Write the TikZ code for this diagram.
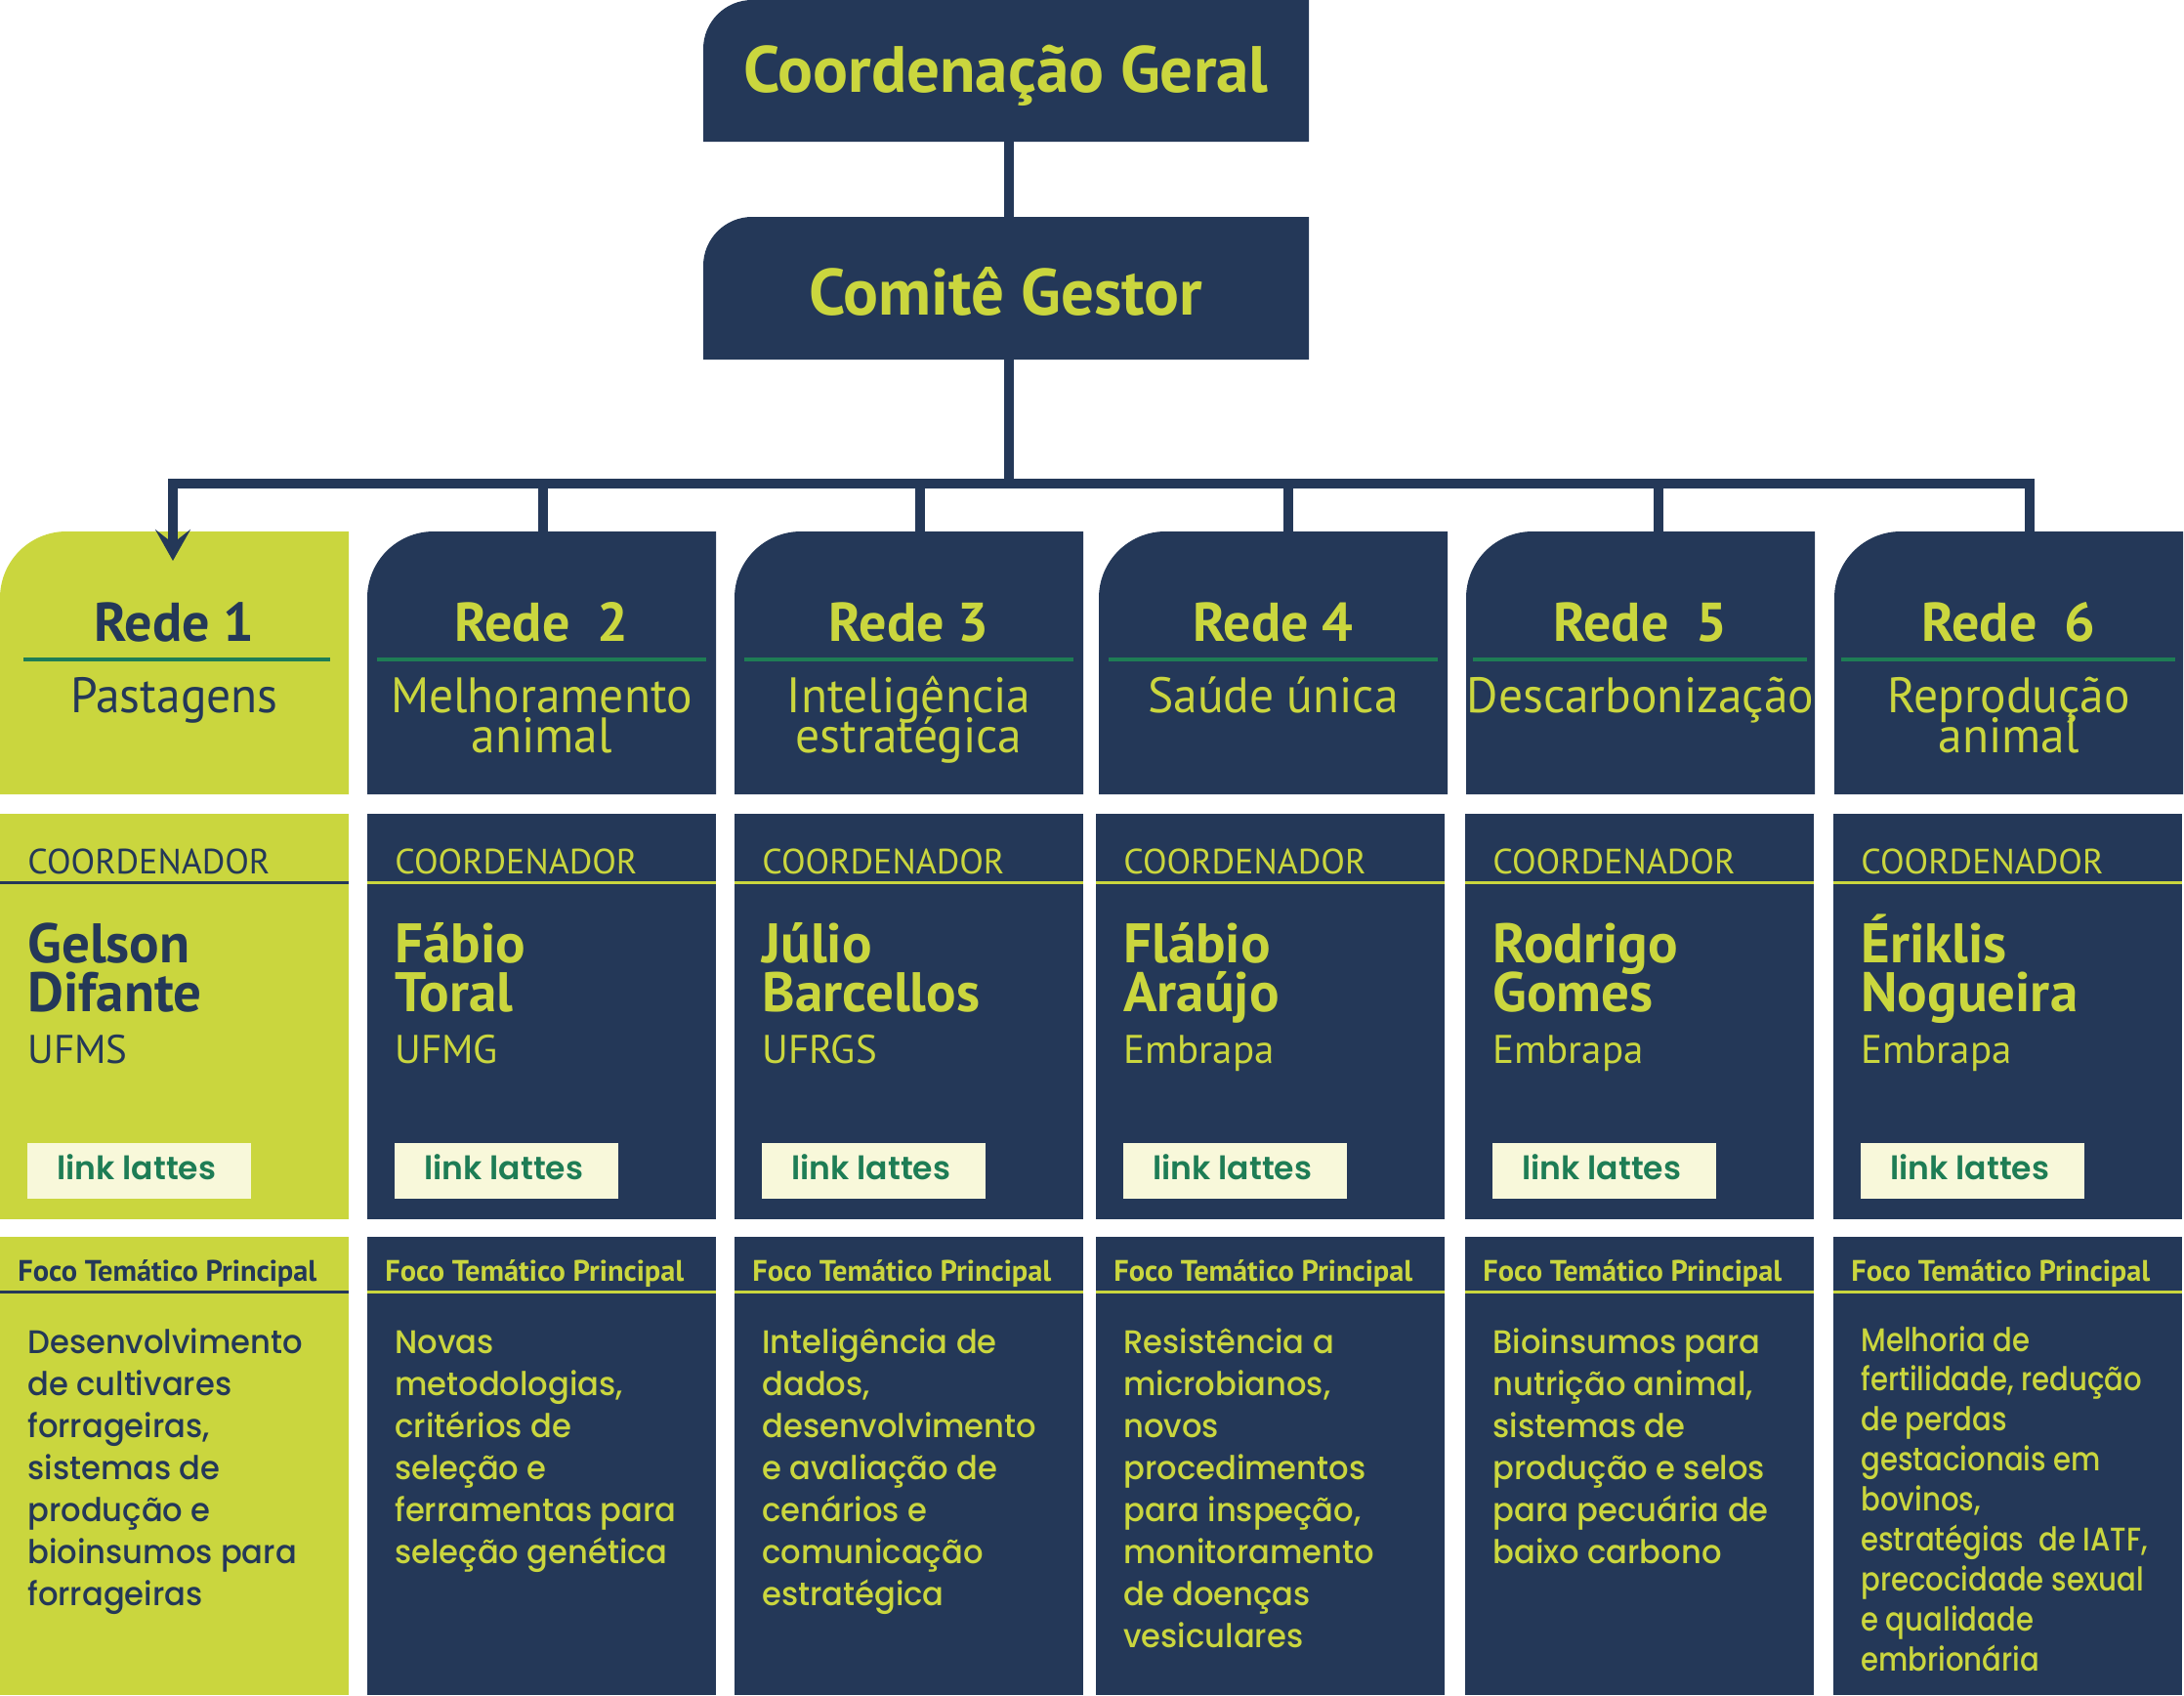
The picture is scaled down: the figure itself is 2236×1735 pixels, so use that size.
\documentclass[tikz,border=0pt]{standalone}
\usepackage{fontspec}
\usetikzlibrary{arrows.meta}
\newfontfamily\mys{PT Sans}
\newfontfamily\myss{PT Sans}[FakeStretch=0.97]
\newfontfamily\pop{Poppins}[UprightFont={* Medium}, BoldFont={* SemiBold}]
\newfontfamily\popb{Poppins}[UprightFont={* Medium}, FakeStretch=0.96]
\newfontfamily\popc{Poppins}[UprightFont={* Medium}, FakeStretch=0.87]
\definecolor{navy}{RGB}{36,56,88}
\definecolor{lime}{RGB}{202,214,62}
\definecolor{grn}{RGB}{30,125,85}
\definecolor{cream}{RGB}{248,248,218}
\tikzset{
  anch/.style={inner sep=0pt, outer sep=0pt, minimum width=178.5pt, anchor=north west},
  conn/.style={draw=navy, line width=4.75pt, line join=miter},
  ttl/.style={font=\mys\bfseries\fontsize{28pt}{30pt}\selectfont, anchor=base, inner sep=0pt},
  sub/.style={font=\myss\fontsize{25.5pt}{27pt}\selectfont, anchor=base, inner sep=0pt},
  lbl/.style={font=\mys\fontsize{18pt}{20pt}\selectfont, anchor=base west, inner sep=0pt},
  nm/.style={font=\mys\bfseries\fontsize{28.5pt}{30pt}\selectfont, anchor=base west, inner sep=0pt},
  inst/.style={font=\mys\fontsize{20.5pt}{22pt}\selectfont, anchor=base west, inner sep=0pt},
  foco/.style={font=\mys\bfseries\fontsize{15.2pt}{17pt}\selectfont, anchor=base west, inner sep=0pt},
  body/.style={font=\popb\fontsize{16.75pt}{20pt}\selectfont, anchor=base west, inner sep=0pt},
  bodyc/.style={font=\popc\fontsize{16.75pt}{20pt}\selectfont, anchor=base west, inner sep=0pt},
  lnk/.style={font=\pop\bfseries\fontsize{16.5pt}{18pt}\selectfont, text=grn, anchor=base west, inner sep=0pt},
}
\newcommand\tlbox[3]{\fill[#3] (#1.south west) -- ([yshift=-#2]#1.north west) arc[start angle=180, end angle=90, radius=#2] -- (#1.north east) -- (#1.south east) -- cycle;}
% header: id, L, fill, fg, title, subtitle lines, rule left inset, rule right end
\newcommand\colhead[8]{%
  \node[anch, minimum height=134.5pt] (r#1) at (#2,544) {};
  \tlbox{r#1}{34pt}{#3}
  \node[ttl, text=#4] (r#1t) at ({#2+178.5},656) {#5};
  \draw[grn, line width=2.25pt] ({#2+#7},675) -- ({#2+#8},675);
  \foreach \lin [count=\k] in {#6} \node[sub, text=#4] (r#1s\k) at ({#2+178.5},{729+41*(\k-1)}) {\lin};
}
% middle: id, L, fill, fg, name lines, institution
\newcommand\colmid[6]{%
  \node[anch, minimum height=207.5pt] (m#1) at (#2,833) {};
  \fill[#3] (m#1.north west) rectangle (m#1.south east);
  \node[lbl, text=#4] (m#1c) at ({#2+28},894) {COORDENADOR};
  \draw[#4, line width=1.5pt] ({#2},903) -- ({#2+357},903);
  \foreach \lin [count=\k] in {#5} \node[nm, text=#4] (m#1n\k) at ({#2+28},{985+50*(\k-1)}) {\lin};
  \node[inst, text=#4] (m#1i) at ({#2+28},1088) {#6};
  \node[anch, minimum width=114.5pt, minimum height=28.5pt, fill=cream] (m#1b) at ({#2+28},1170) {};
  \node[lnk] (m#1l) at ({#2+58},1207) {link lattes};
}
% bottom: id, L, fill, fg, body lines, style, first baseline, step
\newcommand\colbot[8]{%
  \node[anch, minimum height=234.5pt] (b#1) at (#2,1266) {};
  \fill[#3] (b#1.north west) rectangle (b#1.south east);
  \node[foco, text=#4] (b#1f) at ({#2+18},1311) {Foco Temático Principal};
  \draw[#4, line width=1.5pt] ({#2},1322) -- ({#2+357},1322);
  \foreach \lin [count=\k] in {#5} \node[#6, text=#4] (b#1x\k) at ({#2+28},{#7+#8*(\k-1)}) {\lin};
}
\begin{document}
\begin{tikzpicture}[x=0.5pt, y=-0.5pt]
\useasboundingbox (0,0) rectangle (2236,1735);
% top boxes
\node[anch, minimum width=310pt, minimum height=72.5pt] (cg) at (720,0) {};
\node[anch, minimum width=310pt, minimum height=73pt] (cgest) at (720,222) {};
\tlbox{cg}{25pt}{navy}
\tlbox{cgest}{25pt}{navy}
\node[font=\mys\bfseries\fontsize{33.5pt}{36pt}\selectfont, text=lime, anchor=base, inner sep=0pt] (cgt) at (1030,94) {Coordenação Geral};
\node[font=\mys\bfseries\fontsize{33.5pt}{36pt}\selectfont, text=lime, anchor=base, inner sep=0pt] (cgestt) at (1030,322) {Comitê Gestor};

% columns
\colhead{1}{0}{lime}{navy}{Rede 1}{Pastagens}{24}{338}
\colhead{2}{376}{navy}{lime}{Rede\ \ 2}{Melhoramento,animal}{10}{347}
\colhead{3}{752}{navy}{lime}{Rede 3}{Inteligência,estratégica}{10}{347}
\colhead{4}{1125}{navy}{lime}{Rede 4}{Saúde única}{10}{347}
\colhead{5}{1501}{navy}{lime}{Rede\ \ 5}{Descarbonização}{7}{349}
\colhead{6}{1878}{navy}{lime}{Rede\ \ 6}{Reprodução,animal}{7}{349}

\colmid{1}{0}{lime}{navy}{Gelson,Difante}{UFMS}
\colmid{2}{376}{navy}{lime}{Fábio,Toral}{UFMG}
\colmid{3}{752}{navy}{lime}{Júlio,Barcellos}{UFRGS}
\colmid{4}{1122}{navy}{lime}{Flábio,Araújo}{Embrapa}
\colmid{5}{1500}{navy}{lime}{Rodrigo,Gomes}{Embrapa}
\colmid{6}{1877}{navy}{lime}{Ériklis,Nogueira}{Embrapa}

\colbot{1}{0}{lime}{navy}{Desenvolvimento,de cultivares,{forrageiras,},sistemas de,produção e,bioinsumos para,forrageiras}{body}{1385}{43}
\colbot{2}{376}{navy}{lime}{Novas,{metodologias,},critérios de,seleção e,ferramentas para,seleção genética}{body}{1385}{43}
\colbot{3}{752}{navy}{lime}{Inteligência de,{dados,},desenvolvimento,e avaliação de,cenários e,comunicação,estratégica}{body}{1385}{43}
\colbot{4}{1122}{navy}{lime}{Resistência a,{microbianos,},novos,procedimentos,{para inspeção,},monitoramento,de doenças,vesiculares}{body}{1385}{43}
\colbot{5}{1500}{navy}{lime}{Bioinsumos para,{nutrição animal,},sistemas de,produção e selos,para pecuária de,baixo carbono}{body}{1385}{43}
\colbot{6}{1877}{navy}{lime}{Melhoria de,{fertilidade, redução},de perdas,gestacionais em,{bovinos,},{estratégias\ \ de IATF,},precocidade sexual,e qualidade,embrionária}{bodyc}{1383}{40.9}

% connectors
\coordinate (hub) at (1033,495);
\path (r1.north) ++(-1.5,30) coordinate (d1);
\path (r2.north) ++(1.5,0) coordinate (d2);
\path (r3.north) ++(11.5,0) coordinate (d3);
\path (r4.north) ++(15.5,0) coordinate (d4);
\path (r5.north) ++(18.5,0) coordinate (d5);
\path (r6.north) ++(21.5,0) coordinate (d6);
\draw[conn] (hub |- cg.south) -- (hub |- cgest.north);
\draw[conn] (hub |- cgest.south) -- (hub);
\draw[conn, -{Stealth[length=16pt,width=18pt,inset=7pt]}] (hub) -| (d1);
\draw[conn] (hub) -| (d2);
\draw[conn] (hub) -| (d3);
\draw[conn] (hub) -| (d4);
\draw[conn] (hub) -| (d5);
\draw[conn] (hub) -| (d6);
\end{tikzpicture}
\end{document}
